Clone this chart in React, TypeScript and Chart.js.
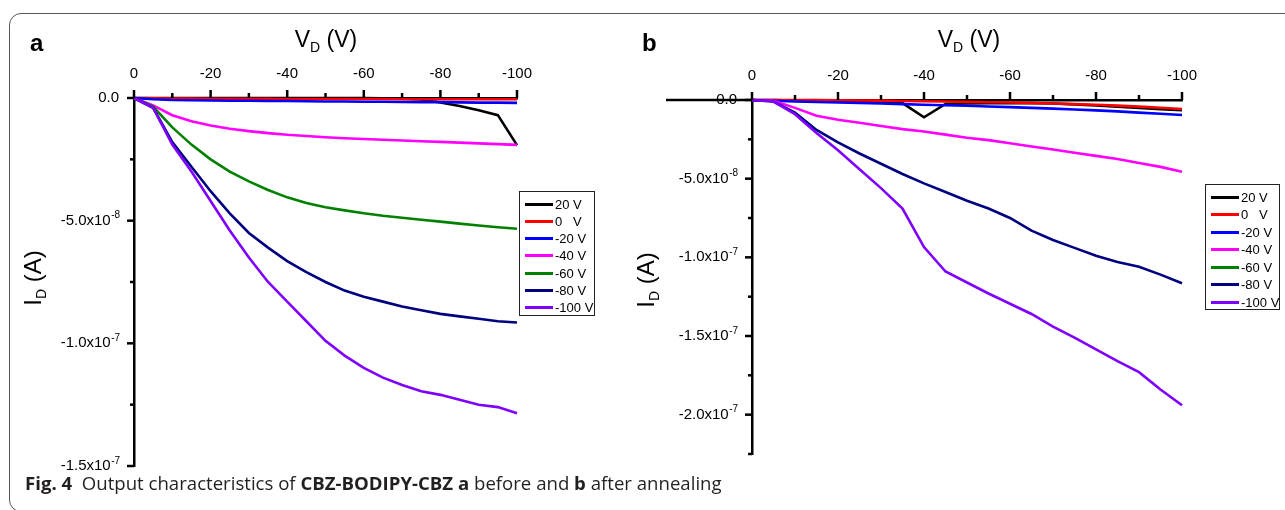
import React, { useEffect, useRef } from 'react';
import { Chart, registerables } from 'chart.js';

Chart.register(...registerables);

// Drain voltage V_D (V)
const VD = [0, -5, -10, -15, -20, -25, -30, -35, -40, -45, -50, -55, -60, -65, -70, -75, -80, -85, -90, -95, -100];

const SERIES_NAMES = ['20 V', '0   V', '-20 V', '-40 V', '-60 V', '-80 V', '-100 V'];
const SERIES_COLORS = ['#000000', '#ff0000', '#0000ff', '#ff00ff', '#008000', '#000080', '#7f00ff'];

// Panel a (before annealing), I_D in units of 1e-8 A
const A_G20 = [0, 0, 0, 0, 0, 0, 0, 0, 0, 0, 0, 0, 0, -0.01, -0.02, -0.06, -0.18, -0.33, -0.5, -0.7, -1.92];
const A_G0 = [0, -0.01, -0.02, -0.02, -0.03, -0.03, -0.03, -0.03, -0.04, -0.04, -0.04, -0.04, -0.04, -0.04, -0.05, -0.05, -0.05, -0.05, -0.05, -0.05, -0.05];
const A_GM20 = [0, -0.05, -0.08, -0.09, -0.1, -0.11, -0.11, -0.12, -0.12, -0.13, -0.14, -0.14, -0.15, -0.15, -0.16, -0.17, -0.17, -0.18, -0.19, -0.19, -0.2];
const A_GM40 = [0, -0.3, -0.7, -0.95, -1.12, -1.25, -1.35, -1.43, -1.5, -1.55, -1.6, -1.64, -1.67, -1.7, -1.73, -1.76, -1.79, -1.82, -1.85, -1.88, -1.91];
const A_GM60 = [0, -0.35, -1.2, -1.9, -2.5, -3.0, -3.4, -3.75, -4.05, -4.28, -4.45, -4.58, -4.7, -4.8, -4.88, -4.96, -5.04, -5.12, -5.2, -5.27, -5.33];
const A_GM80 = [0, -0.4, -1.8, -2.8, -3.8, -4.7, -5.5, -6.1, -6.65, -7.1, -7.5, -7.85, -8.1, -8.3, -8.5, -8.65, -8.8, -8.9, -9.0, -9.1, -9.15];
const A_GM100 = [0, -0.4, -1.9, -3.0, -4.2, -5.4, -6.5, -7.5, -8.3, -9.1, -9.9, -10.5, -11.0, -11.4, -11.7, -11.95, -12.1, -12.3, -12.5, -12.6, -12.85];

// Panel b (after annealing), I_D in units of 1e-8 A
const B_G20 = [0, 0, -0.03, -0.05, -0.07, -0.09, -0.12, -0.2, -1.1, -0.25, -0.22, -0.2, -0.2, -0.2, -0.22, -0.28, -0.35, -0.42, -0.5, -0.58, -0.65];
const B_G0 = [0, 0, 0, -0.01, -0.02, -0.03, -0.04, -0.06, -0.08, -0.1, -0.12, -0.14, -0.16, -0.19, -0.22, -0.26, -0.3, -0.36, -0.42, -0.49, -0.57];
const B_GM20 = [0, -0.05, -0.1, -0.13, -0.16, -0.19, -0.22, -0.26, -0.3, -0.33, -0.37, -0.41, -0.45, -0.5, -0.55, -0.6, -0.66, -0.72, -0.8, -0.87, -0.95];
const B_GM40 = [0, -0.05, -0.5, -1.0, -1.25, -1.45, -1.65, -1.85, -2.0, -2.2, -2.4, -2.55, -2.75, -2.95, -3.15, -3.35, -3.55, -3.75, -4.0, -4.25, -4.56];
const B_GM60: number[] = [];
const B_GM80 = [0, -0.1, -0.8, -1.9, -2.7, -3.4, -4.05, -4.7, -5.3, -5.85, -6.4, -6.9, -7.5, -8.3, -8.9, -9.4, -9.9, -10.3, -10.6, -11.1, -11.65];
const B_GM100 = [0, -0.1, -0.9, -2.1, -3.2, -4.4, -5.6, -6.9, -9.35, -10.9, -11.6, -12.3, -12.95, -13.6, -14.4, -15.1, -15.85, -16.6, -17.3, -18.4, -19.4];

const UNIT = 1e-8;
const Y_STEP = 2.5e-8;
const Y_LABEL_PAD = 15;
const EXP_GAP = '  ';

const TICK_FONT = "'Liberation Sans', Arial, Helvetica, sans-serif";

function splitSci(v: number): { mant: string; exp: string } {
  if (Math.abs(v) < 1e-20) return { mant: '0.0', exp: '' };
  const e = Math.floor(Math.log10(Math.abs(v)) + 1e-9);
  const m = v / Math.pow(10, e);
  return { mant: `${m.toFixed(1)}x10`, exp: String(e) };
}

function isMajorY(v: number) {
  return Math.round(v / Y_STEP) % 2 === 0;
}

function yTickLabel(v: number) {
  if (!isMajorY(v)) return '';
  const { mant, exp } = splitSci(Math.round(v / Y_STEP) * Y_STEP);
  return exp ? mant + EXP_GAP : mant;
}

const tickMarks = {
  id: 'tickMarks',
  afterDraw(chart: any, _args: any, opts: any) {
    const { ctx, chartArea } = chart;
    const xs = chart.scales.x;
    const ys = chart.scales.y;
    ctx.save();
    ctx.strokeStyle = '#000';
    ctx.lineWidth = 2.5;
    ctx.lineCap = 'butt';
    const yZero = ys.getPixelForValue(0);
    if (opts && opts.extend) {
      ctx.beginPath();
      ctx.moveTo(chartArea.left - opts.extend, yZero);
      ctx.lineTo(chartArea.left, yZero);
      ctx.stroke();
    }
    xs.ticks.forEach((t: any) => {
      const px = xs.getPixelForValue(t.value);
      const major = Math.round(t.value) % 20 === 0;
      const len = major ? 8 : 5;
      ctx.beginPath();
      ctx.moveTo(px, chartArea.top);
      ctx.lineTo(px, chartArea.top - len);
      ctx.stroke();
    });
    ctx.font = `15px ${TICK_FONT}`;
    const gapW = ctx.measureText(EXP_GAP).width;
    ctx.fillStyle = '#000';
    ctx.font = `10px ${TICK_FONT}`;
    ctx.textAlign = 'left';
    ctx.textBaseline = 'top';
    ys.ticks.forEach((t: any) => {
      const py = ys.getPixelForValue(t.value);
      const major = isMajorY(t.value);
      const len = major ? 7 : 4;
      ctx.beginPath();
      ctx.moveTo(chartArea.left, py);
      ctx.lineTo(chartArea.left - len, py);
      ctx.stroke();
      if (major) {
        const { exp } = splitSci(Math.round(t.value / Y_STEP) * Y_STEP);
        if (exp) ctx.fillText(exp, chartArea.left - Y_LABEL_PAD - gapW + 0.5, py - 10);
      }
    });
    ctx.restore();
  },
};

type PanelProps = {
  left: number;
  width: number;
  height: number;
  series: number[][];
  yMin: number;
  yAxisWidth: number;
  xAxisHeight: number;
  padRight: number;
  padBottom: number;
  extend: number;
};

function Panel(p: PanelProps) {
  const ref = useRef<HTMLCanvasElement | null>(null);
  useEffect(() => {
    if (!ref.current) return;
    const datasets = p.series.map((vals, i) => ({
      label: SERIES_NAMES[i],
      data: vals.map((v, k) => ({ x: VD[k], y: v * UNIT })),
      borderColor: SERIES_COLORS[i],
      backgroundColor: SERIES_COLORS[i],
      borderWidth: 2.6,
      pointRadius: 0,
      tension: 0,
      fill: false,
      clip: false as any,
      order: SERIES_NAMES.length - i,
    }));
    const chart = new Chart(ref.current, {
      type: 'line',
      data: { datasets },
      plugins: [tickMarks as any],
      options: {
        animation: false,
        responsive: false,
        devicePixelRatio: 1,
        layout: { padding: { left: 0, top: 0, right: p.padRight, bottom: p.padBottom } },
        plugins: {
          legend: { display: false },
          tooltip: { enabled: false },
          tickMarks: { extend: p.extend },
        } as any,
        scales: {
          x: {
            type: 'linear',
            position: 'top',
            min: -100,
            max: 0,
            reverse: true,
            grid: { display: false, drawTicks: false, tickLength: 0 },
            border: { display: true, color: '#000', width: 2.5 },
            ticks: {
              stepSize: 10,
              padding: 15,
              color: '#000',
              font: { family: TICK_FONT, size: 15 },
              maxRotation: 0,
              autoSkip: false,
              callback: (v: any) => (Math.round(v) % 20 === 0 ? String(Math.round(v)) : ''),
            },
            afterFit: (s: any) => {
              s.height = p.xAxisHeight;
            },
          },
          y: {
            type: 'linear',
            min: p.yMin,
            max: 0,
            grid: { display: false, drawTicks: false, tickLength: 0 },
            border: { display: true, color: '#000', width: 2.5 },
            ticks: {
              stepSize: Y_STEP,
              padding: Y_LABEL_PAD,
              color: '#000',
              font: { family: TICK_FONT, size: 15 },
              autoSkip: false,
              callback: (v: any) => yTickLabel(v),
            },
            afterFit: (s: any) => {
              s.width = p.yAxisWidth;
            },
          },
        },
      },
    });
    return () => chart.destroy();
  }, []);
  return (
    <canvas
      ref={ref}
      width={p.width}
      height={p.height}
      style={{ position: 'absolute', left: p.left, top: 0, width: p.width, height: p.height, display: 'block' }}
    />
  );
}

const TITLE_FONT = "'Liberation Sans', Arial, Helvetica, sans-serif";

function Legend({ left, top, width, height, rowH, padTop }: { left: number; top: number; width: number; height: number; rowH: number; padTop: number }) {
  return (
    <div
      style={{
        position: 'absolute',
        left,
        top,
        width,
        height,
        border: '1px solid #222',
        boxSizing: 'border-box',
        background: '#fff',
      }}
    >
      {SERIES_NAMES.map((n, i) => (
        <div
          key={n}
          style={{ position: 'absolute', left: 5, top: padTop + i * rowH, height: rowH, display: 'flex', alignItems: 'center' }}
        >
          <span style={{ display: 'inline-block', width: 28, height: 3, background: SERIES_COLORS[i] }} />
          <span style={{ marginLeft: 2, fontSize: 13, lineHeight: '13px', whiteSpace: 'pre', fontFamily: TICK_FONT, color: '#000' }}>{n}</span>
        </div>
      ))}
    </div>
  );
}

function XTitle({ cx }: { cx: number }) {
  return (
    <div
      style={{
        position: 'absolute',
        left: cx,
        top: 43,
        transform: 'translate(-50%, -50%)',
        fontFamily: TITLE_FONT,
        fontSize: 23,
        whiteSpace: 'nowrap',
        color: '#000',
        lineHeight: '26px',
      }}
    >
      V<sub style={{ fontSize: 14, verticalAlign: '-5px' }}>D</sub> (V)
    </div>
  );
}

function YTitle({ cx, cy }: { cx: number; cy: number }) {
  return (
    <div
      style={{
        position: 'absolute',
        left: cx,
        top: cy,
        transform: 'translate(-50%, -50%) rotate(-90deg)',
        fontFamily: TITLE_FONT,
        fontSize: 24,
        whiteSpace: 'nowrap',
        color: '#000',
        lineHeight: '26px',
      }}
    >
      I<sub style={{ fontSize: 14, verticalAlign: '-5px' }}>D</sub> (A)
    </div>
  );
}

export default function App() {
  return (
    <div style={{ position: 'absolute', left: 0, top: 0, width: 1285, height: 510, overflow: 'hidden', background: '#fff' }}>
      <div
        style={{
          position: 'absolute',
          left: 9,
          top: 13,
          width: 1400,
          height: 499,
          border: '1.5px solid #555',
          borderRadius: 12,
          boxSizing: 'border-box',
        }}
      />
      <Panel
        left={0}
        width={640}
        height={510}
        series={[A_G20, A_G0, A_GM20, A_GM40, A_GM60, A_GM80, A_GM100]}
        yMin={-1.5e-7}
        yAxisWidth={134}
        xAxisHeight={98}
        padRight={123}
        padBottom={44}
        extend={0}
      />
      <Panel
        left={640}
        width={645}
        height={510}
        series={[B_G20, B_G0, B_GM20, B_GM40, B_GM60, B_GM80, B_GM100]}
        yMin={-2.25e-7}
        yAxisWidth={112}
        xAxisHeight={100}
        padRight={103}
        padBottom={56}
        extend={86}
      />
      <div style={{ position: 'absolute', left: 30, top: 43, transform: 'translateY(-50%)', fontFamily: TITLE_FONT, fontWeight: 700, fontSize: 24, lineHeight: '26px' }}>a</div>
      <div style={{ position: 'absolute', left: 642, top: 43, transform: 'translateY(-50%)', fontFamily: TITLE_FONT, fontWeight: 700, fontSize: 24, lineHeight: '26px' }}>b</div>
      <XTitle cx={326} />
      <XTitle cx={969} />
      <YTitle cx={37} cy={278} />
      <YTitle cx={650} cy={280} />
      <Legend left={519} top={191} width={76} height={125} rowH={17.3} padTop={3.4} />
      <Legend left={1205} top={184} width={75} height={126} rowH={17.5} padTop={3.3} />
      <div
        style={{
          position: 'absolute',
          left: 25,
          top: 472,
          fontFamily: "'Open Sans', 'Noto Sans', sans-serif",
          fontSize: 18.6,
          lineHeight: '22px',
          color: '#231f20',
          whiteSpace: 'pre',
        }}
      >
        <b>Fig. 4</b>{'  '}Output characteristics of <b>CBZ-BODIPY-CBZ a</b> before and <b>b</b> after annealing
      </div>
    </div>
  );
}
